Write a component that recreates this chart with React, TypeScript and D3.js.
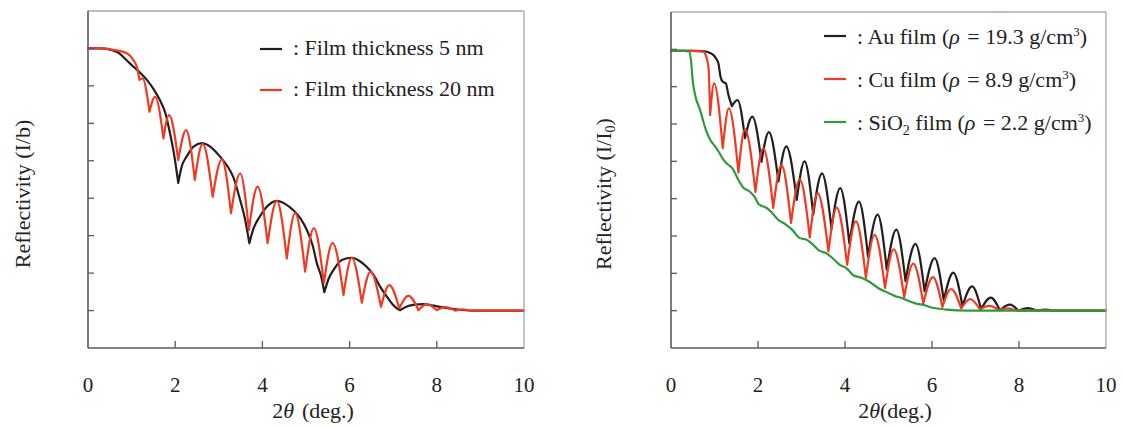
import React from 'react';
import * as d3 from 'd3';

type P = [number, number]; // [2θ in degrees, log10 of reflectivity]

const xTicks = [0, 2, 4, 6, 8, 10];
const innerDecades = [0, -1, -2, -3, -4, -5, -6, -7];

// Left panel: film thickness series
const film5nm: P[] = [
  [0, 0], [0.3, 0], [0.43, -0.01], [0.7, -0.12], [0.96, -0.4], [1.15, -0.6], [1.35, -0.84],
  [1.5, -1.08], [1.65, -1.38], [1.78, -1.75], [1.88, -2.26], [1.97, -2.8], [2.07, -3.59],
  [2.15, -3.15], [2.26, -2.89], [2.42, -2.62], [2.61, -2.53], [2.8, -2.62], [3.03, -2.89],
  [3.2, -3.15], [3.33, -3.43], [3.49, -4.05], [3.6, -4.55], [3.7, -5.2], [3.8, -4.8],
  [3.94, -4.49], [4.1, -4.23], [4.33, -4.07], [4.52, -4.15], [4.71, -4.32], [4.88, -4.55],
  [5.02, -4.85], [5.15, -5.25], [5.25, -5.74], [5.35, -6.1], [5.42, -6.51], [5.52, -6.15],
  [5.63, -5.92], [5.82, -5.65], [6.05, -5.59], [6.22, -5.67], [6.39, -5.83], [6.55, -6.05],
  [6.7, -6.36], [6.85, -6.62], [6.97, -6.81], [7.07, -6.93], [7.16, -6.99], [7.3, -6.9],
  [7.46, -6.85], [7.69, -6.83], [7.88, -6.86], [8.07, -6.9], [8.46, -6.97], [8.8, -7.0], [10, -7.0],
];

const film20nm: P[] = [
  [0, 0], [0.3, 0], [0.58, -0.04], [0.89, -0.13], [1.04, -0.31], [1.12, -0.49], [1.18, -0.84],
  [1.25, -0.8], [1.41, -1.69], [1.54, -1.29], [1.73, -2.4], [1.86, -1.78], [2.07, -2.98],
  [2.25, -2.18], [2.45, -3.51], [2.63, -2.55], [2.86, -3.96], [3.07, -2.96], [3.28, -4.4],
  [3.49, -3.34], [3.69, -4.85], [3.89, -3.69], [4.12, -5.2], [4.33, -4.07], [4.56, -5.61],
  [4.75, -4.4], [4.98, -5.96], [5.18, -4.8], [5.41, -6.27], [5.61, -5.19], [5.86, -6.59],
  [6.05, -5.59], [6.28, -6.79], [6.48, -5.96], [6.72, -6.9], [6.91, -6.32], [7.14, -6.94],
  [7.35, -6.61], [7.58, -6.99], [7.77, -6.83], [8.0, -6.99], [8.19, -6.91], [8.42, -7.0],
  [8.6, -6.97], [8.8, -7.0], [10, -7.0],
];

// Right panel: film material series
const auFilm: P[] = [
  [0, -0.04], [0.5, -0.04], [0.74, -0.05], [0.9, -0.1], [0.97, -0.15], [1.04, -0.25],
  [1.09, -0.38], [1.14, -0.74], [1.19, -0.87], [1.26, -0.91], [1.32, -1.22], [1.4, -1.52],
  [1.53, -1.36], [1.7, -2.38], [1.87, -1.8], [2.08, -3.01], [2.25, -2.22], [2.47, -3.54],
  [2.65, -2.6], [2.89, -4.03], [3.07, -3.0], [3.27, -4.43], [3.47, -3.32], [3.69, -4.8],
  [3.89, -3.72], [4.1, -5.2], [4.32, -4.08], [4.53, -5.55], [4.75, -4.43], [4.96, -5.9],
  [5.18, -4.83], [5.39, -6.2], [5.62, -5.21], [5.83, -6.48], [6.06, -5.59], [6.27, -6.72],
  [6.49, -5.98], [6.7, -6.88], [6.92, -6.35], [7.13, -6.96], [7.35, -6.65], [7.56, -6.99],
  [7.79, -6.84], [7.99, -7.0], [8.2, -6.93], [8.41, -7.0], [8.62, -6.97], [8.82, -7.0], [10, -7.0],
];

const cuFilm: P[] = [
  [0, -0.04], [0.5, -0.04], [0.74, -0.06], [0.78, -0.11], [0.86, -0.47], [0.9, -1.76],
  [0.99, -0.91], [1.19, -2.65], [1.33, -1.58], [1.55, -3.3], [1.7, -2.14], [1.94, -3.82],
  [2.12, -2.65], [2.35, -4.25], [2.54, -3.1], [2.76, -4.65], [2.96, -3.48], [3.19, -5.04],
  [3.37, -3.85], [3.62, -5.41], [3.81, -4.24], [4.05, -5.77], [4.25, -4.61], [4.48, -6.12],
  [4.68, -4.97], [4.92, -6.39], [5.12, -5.36], [5.36, -6.64], [5.57, -5.74], [5.8, -6.81],
  [6.02, -6.1], [6.24, -6.9], [6.44, -6.42], [6.67, -6.94], [6.88, -6.69], [7.1, -6.96],
  [7.32, -6.87], [7.54, -6.98], [7.75, -6.94], [7.97, -7.0], [8.2, -7.0], [10, -7.0],
];

const sio2Film: P[] = [
  [0, -0.04], [0.3, -0.04], [0.42, -0.06], [0.46, -0.3], [0.5, -0.85], [0.56, -1.25],
  [0.67, -1.63], [0.8, -2.15], [0.9, -2.42], [1.0, -2.58], [1.1, -2.75], [1.2, -2.95],
  [1.3, -3.08], [1.42, -3.2], [1.55, -3.5], [1.66, -3.7], [1.82, -3.82], [1.92, -3.95],
  [2.02, -4.15], [2.2, -4.25], [2.3, -4.35], [2.45, -4.55], [2.65, -4.7], [2.8, -4.85],
  [2.95, -5.05], [3.12, -5.1], [3.25, -5.22], [3.42, -5.4], [3.57, -5.46], [3.72, -5.6],
  [3.89, -5.78], [4.03, -5.86], [4.19, -6.05], [4.38, -6.12], [4.52, -6.2], [4.65, -6.3],
  [4.8, -6.42], [4.95, -6.5], [5.15, -6.61], [5.3, -6.66], [5.42, -6.72], [5.64, -6.81],
  [5.85, -6.86], [5.95, -6.9], [6.33, -6.97], [6.8, -7.0], [10, -7.0],
];

const BLACK = '#231f20';
const RED = '#ef3b24';
const GREEN = '#2e9a3c';
const FONT = '"Liberation Serif", "Times New Roman", serif';

function splitAtMinima(pts: P[]): P[][] {
  const out: P[][] = [];
  let start = 0;
  for (let i = 1; i < pts.length - 1; i++) {
    if (pts[i][1] < pts[i - 1][1] && pts[i][1] < pts[i + 1][1]) {
      out.push(pts.slice(start, i + 1));
      start = i;
    }
  }
  out.push(pts.slice(start));
  return out;
}

type Series = { data: P[]; color: string; cusp: boolean };

function Panel(props: {
  x0: number; x1: number; y0: number; y1: number; series: Series[];
}) {
  const { x0, x1, y0, y1, series } = props;
  const x = d3.scaleLinear().domain([0, 10]).range([x0, x1]);
  const y = d3.scaleLog().domain([1e-8, 10]).range([y1, y0]);
  const line = d3
    .line<P>()
    .x((d) => x(d[0]))
    .y((d) => y(Math.pow(10, d[1])))
    .curve(d3.curveMonotoneX);
  return (
    <g>
      {series.map((s, i) => {
        const parts = s.cusp ? splitAtMinima(s.data) : [s.data];
        return (
          <path
            key={i}
            d={parts.map((p) => line(p) || '').join('')}
            fill="none"
            stroke={s.color}
            strokeWidth={2.2}
            strokeLinejoin="round"
            strokeLinecap="round"
          />
        );
      })}
      <line x1={x0} x2={x1} y1={y0} y2={y0} stroke="#a8a8a8" strokeWidth={1.3} />
      <line x1={x1} x2={x1} y1={y0} y2={y1} stroke="#a8a8a8" strokeWidth={1.3} />
      <line x1={x0} x2={x0} y1={y0} y2={y1} stroke="#5a5a5a" strokeWidth={1.6} />
      <line x1={x0} x2={x1} y1={y1} y2={y1} stroke="#5a5a5a" strokeWidth={1.6} />
      {innerDecades.map((e) => (
        <line key={e} x1={x0} x2={x0 + 6} y1={y(Math.pow(10, e))} y2={y(Math.pow(10, e))}
          stroke="#5a5a5a" strokeWidth={1.3} />
      ))}
      {xTicks.map((t) => (
        <g key={t}>
          {t > 0 && t < 10 && (
            <line x1={x(t)} x2={x(t)} y1={y1} y2={y1 - 7} stroke="#5a5a5a" strokeWidth={1.3} />
          )}
          <text x={x(t)} y={392} textAnchor="middle" fontFamily={FONT} fontSize={21} fill="#222">
            {t}
          </text>
        </g>
      ))}
    </g>
  );
}

export default function App() {
  const leg = { fontFamily: FONT, fontSize: 22, fill: '#222' } as const;
  return (
    <svg width={1122} height={428} style={{ position: 'absolute', left: 0, top: 0, background: '#fff' }}>
      <rect width={1122} height={428} fill="#fff" />
      <Panel x0={88} x1={524} y0={11} y1={348}
        series={[
          { data: film5nm, color: BLACK, cusp: true },
          { data: film20nm, color: RED, cusp: true },
        ]} />
      <Panel x0={671} x1={1106} y0={12} y1={348}
        series={[
          { data: auFilm, color: BLACK, cusp: true },
          { data: cuFilm, color: RED, cusp: true },
          { data: sio2Film, color: GREEN, cusp: false },
        ]} />

      {/* left legend */}
      <line x1={260} x2={282} y1={49} y2={49} stroke={BLACK} strokeWidth={2.2} />
      <text x={293} y={55} {...leg}>: Film thickness 5 nm</text>
      <line x1={260} x2={282} y1={90} y2={90} stroke={RED} strokeWidth={2.2} />
      <text x={293} y={96} {...leg}>: Film thickness 20 nm</text>

      {/* right legend */}
      <line x1={824} x2={846} y1={36} y2={36} stroke={BLACK} strokeWidth={2.2} />
      <text x={857} y={44} {...leg}>
        : Au film (<tspan fontStyle="italic">ρ</tspan><tspan dx={2}>{' = 19.3 g/cm'}</tspan><tspan fontSize={13} dy={-8}>3</tspan><tspan dy={8}>)</tspan>
      </text>
      <line x1={824} x2={846} y1={79} y2={79} stroke={RED} strokeWidth={2.2} />
      <text x={857} y={87} {...leg}>
        : Cu film (<tspan fontStyle="italic">ρ</tspan><tspan dx={2}>{' = 8.9 g/cm'}</tspan><tspan fontSize={13} dy={-8}>3</tspan><tspan dy={8}>)</tspan>
      </text>
      <line x1={824} x2={846} y1={122} y2={122} stroke={GREEN} strokeWidth={2.2} />
      <text x={857} y={130} {...leg}>
        : SiO<tspan fontSize={14} dy={5}>2</tspan><tspan dy={-5}>{' film ('}</tspan><tspan fontStyle="italic">ρ</tspan><tspan dx={2}>{' = 2.2 g/cm'}</tspan><tspan fontSize={13} dy={-8}>3</tspan><tspan dy={8}>)</tspan>
      </text>

      {/* y titles */}
      <text transform="translate(30,194) rotate(-90)" textAnchor="middle" {...leg}>
        Reflectivity (I/b)
      </text>
      <text transform="translate(611,194) rotate(-90)" textAnchor="middle" {...leg}>
        Reflectivity (I/I<tspan fontSize={14} dy={4}>0</tspan><tspan dy={-4}>)</tspan>
      </text>

      {/* x titles */}
      <text x={313} y={418} textAnchor="middle" {...leg}>
        2<tspan fontStyle="italic">θ</tspan><tspan dx={8}>(deg.)</tspan>
      </text>
      <text x={895} y={418} textAnchor="middle" {...leg}>
        2<tspan fontStyle="italic">θ</tspan>(deg.)
      </text>
    </svg>
  );
}
